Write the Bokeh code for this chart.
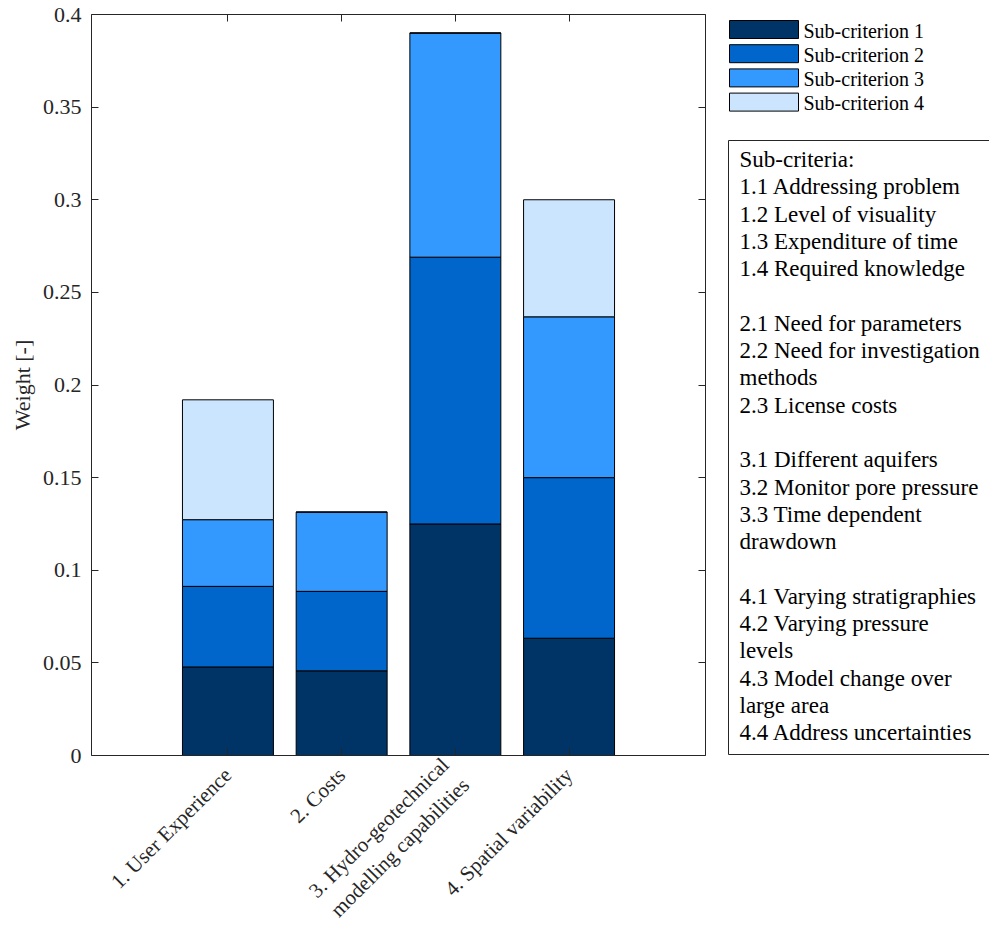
import math
from bokeh.plotting import figure
from bokeh.layouts import row
from bokeh.models import (ColumnDataSource, Range1d, FixedTicker, LinearAxis,
                          CustomJSTickFormatter)
from bokeh.core.properties import value
from bokeh.embed import file_html
from bokeh.resources import INLINE

# ---------------- data ----------------
categories = ["1. User Experience", "2. Costs",
              "3. Hydro-geotechnical\nmodelling capabilities",
              "4. Spatial variability"]
positions = [1, 2, 3, 4]
sub1 = [0.0478, 0.0457, 0.125, 0.0633]
sub2 = [0.0435, 0.0429, 0.144, 0.0867]
sub3 = [0.0360, 0.0428, 0.121, 0.0868]
sub4 = [0.0647, 0.0, 0.0, 0.0632]
series_names = ["Sub-criterion 1", "Sub-criterion 2", "Sub-criterion 3", "Sub-criterion 4"]
colors = ["#003366", "#0066CC", "#3399FF", "#CCE5FF"]
y_ticks = [0, 0.05, 0.1, 0.15, 0.2, 0.25, 0.3, 0.35, 0.4]
subcriteria_lines = [
    "Sub-criteria:",
    "1.1 Addressing problem",
    "1.2 Level of visuality",
    "1.3 Expenditure of time",
    "1.4 Required knowledge",
    "",
    "2.1 Need for parameters",
    "2.2 Need for investigation",
    "methods",
    "2.3 License costs",
    "",
    "3.1 Different aquifers",
    "3.2 Monitor pore pressure",
    "3.3 Time dependent",
    "drawdown",
    "",
    "4.1 Varying stratigraphies",
    "4.2 Varying pressure",
    "levels",
    "4.3 Model change over",
    "large area",
    "4.4 Address uncertainties",
]

FONT = "Liberation Serif"
AXC = "#262626"

src = ColumnDataSource(dict(x=positions, s1=sub1, s2=sub2, s3=sub3, s4=sub4))

p = figure(width=720, height=946, output_backend="svg", toolbar_location=None,
           x_range=Range1d(-0.2, 5.2), y_range=Range1d(0, 0.4),
           min_border_left=91, min_border_right=15, min_border_top=14,
           min_border_bottom=191)
p.outline_line_color = None
p.xgrid.visible = False
p.ygrid.visible = False

p.vbar_stack(["s1", "s2", "s3", "s4"], x="x", width=0.8, source=src,
             fill_color=colors, line_color="black", line_width=1)

# bottom axis
xa = p.xaxis[0]
xa.ticker = FixedTicker(ticks=positions)
xa.major_label_overrides = {pos: lab for pos, lab in zip(positions, categories)}
xa.major_label_orientation = math.pi / 4

# left axis
ya = p.yaxis[0]
ya.ticker = FixedTicker(ticks=y_ticks)
ya.formatter = CustomJSTickFormatter(code="return parseFloat(tick.toFixed(2)).toString();")
ya.axis_label = "Weight [-]"

top = LinearAxis(ticker=FixedTicker(ticks=positions))
right = LinearAxis(ticker=FixedTicker(ticks=y_ticks))
p.add_layout(top, "above")
p.add_layout(right, "right")

for ax in [xa, ya, top, right]:
    ax.major_tick_in = 7
    ax.major_tick_out = 0
    ax.minor_tick_in = 0
    ax.minor_tick_out = 0
    ax.axis_line_color = AXC
    ax.axis_line_width = 1
    ax.major_tick_line_color = AXC
    ax.major_label_text_font = FONT
    ax.major_label_text_font_size = "22px"
    ax.major_label_text_color = AXC
for ax in [top, right]:
    ax.major_label_text_font_size = "0px"
    ax.major_label_standoff = 0
xa.major_label_text_font_size = "21px"
xa.major_label_standoff = 16
ya.major_label_standoff = 10
ya.axis_label_standoff = 5
ya.axis_label_text_font = FONT
ya.axis_label_text_font_size = "22px"
ya.axis_label_text_font_style = "normal"
ya.axis_label_text_color = AXC

# ---------------- side panel: legend + sub-criteria box ----------------
# The row aligns this panel's frame with the main frame; its y range is in
# page pixels from the main frame's top (14) to its bottom (755).
side = figure(width=269, height=946, output_backend="svg", toolbar_location=None,
              x_range=Range1d(0, 269), y_range=Range1d(755, 14),
              min_border=0, x_axis_location=None, y_axis_location=None)
side.outline_line_color = None
side.xgrid.visible = False
side.ygrid.visible = False

n = len(series_names)
leg_src = ColumnDataSource(dict(
    left=[9] * n, right=[78] * n,
    top=[20 + i * 24.2 for i in range(n)],
    bottom=[38 + i * 24.2 for i in range(n)],
    color=colors,
    tx=[83] * n,
    ty=[30 + i * 24.2 for i in range(n)],
    name=series_names))
side.quad(left="left", right="right", top="top", bottom="bottom", source=leg_src,
          fill_color="color", line_color="black", line_width=1)
side.text(x="tx", y="ty", text="name", source=leg_src, text_font=value(FONT),
          text_font_size="20px", text_baseline="middle", text_align="left",
          text_color="black")

side.quad(left=[8], right=[320], top=[140], bottom=[754], fill_color="white",
          line_color=AXC, line_width=1)
m = len(subcriteria_lines)
box_src = ColumnDataSource(dict(
    x=[19] * m, y=[159 + i * 27.3 for i in range(m)], t=subcriteria_lines))
side.text(x="x", y="y", text="t", source=box_src, text_font=value(FONT),
          text_font_size="23px", text_baseline="middle", text_align="left",
          text_color="black")

layout = row(p, side)
open("out.html", "w").write(file_html(layout, INLINE))
